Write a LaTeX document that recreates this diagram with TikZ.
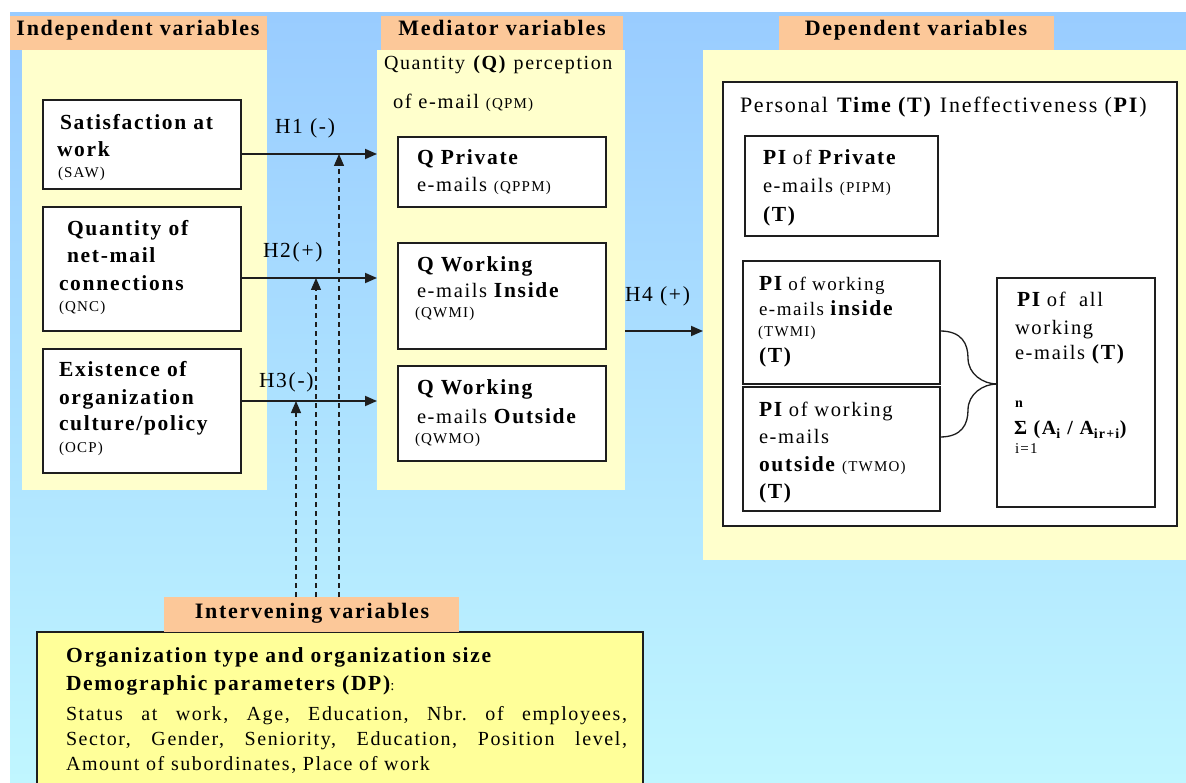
\documentclass[tikz,border=0pt]{standalone}
\usepackage{fontspec}
\setmainfont{Liberation Serif}[LetterSpace=8]
\usetikzlibrary{arrows.meta,calc}
\definecolor{bgTop}{RGB}{153,204,255}
\definecolor{bgBot}{RGB}{192,246,255}
\definecolor{panelY}{RGB}{255,255,204}
\definecolor{hdrO}{RGB}{252,200,153}
\definecolor{ivY}{RGB}{255,255,153}
\definecolor{lineC}{RGB}{30,30,30}
\newcommand\FH{\fontsize{22}{26}\selectfont}
\newcommand\FA{\fontsize{21.5}{25}\selectfont}
\newcommand\FR{\fontsize{20.5}{24}\selectfont}
\newcommand\FS{\fontsize{19}{22}\selectfont}
\newcommand\acr[1]{{\fontsize{15}{18}\selectfont #1}}
\frenchspacing
\tikzset{
  txt/.style={anchor=base west, inner sep=0pt, outer sep=0pt, font=\FA},
  ctxt/.style={anchor=base, inner sep=0pt, outer sep=0pt, font=\FH\bfseries},
  panel/.style={fill=panelY, draw=none, anchor=north west, inner sep=0pt, outer sep=0pt},
  hdr/.style={fill=hdrO, draw=none, anchor=north west, inner sep=0pt, outer sep=0pt},
  vbox/.style={fill=white, draw=lineC, line width=1.4pt, anchor=north west, inner sep=0pt, outer sep=0pt},
  harrow/.style={draw=lineC, line width=1.8pt, -{Triangle[length=12pt,width=10pt]}},
  dasharrow/.style={draw=lineC, line width=1.3pt, dash pattern=on 5pt off 4pt, -{Triangle[length=12pt,width=10pt]}},
  bracel/.style={draw=lineC, line width=1.3pt}
}
\begin{document}
\begin{tikzpicture}[x=1pt,y=-1pt]
\clip (0,0) rectangle (1186,783);
\fill[white] (0,0) rectangle (1186,783);
\fill[top color=bgTop, bottom color=bgBot] (10,13) rectangle (1190,783);

% panels and headers
\node[panel, minimum width=245pt, minimum height=440pt] (ivp) at (22,50) {};
\node[hdr, minimum width=257pt, minimum height=34pt] (hiv) at (10,16) {};
\node[panel, minimum width=248pt, minimum height=440pt] (medp) at (377,50) {};
\node[hdr, minimum width=242pt, minimum height=34pt] (hmed) at (381,16) {};
\node[panel, minimum width=490pt, minimum height=510pt] (dvp) at (703,50) {};
\node[hdr, minimum width=275pt, minimum height=34pt] (hdv) at (779,16) {};

\node[ctxt] (thiv) at (138,36) {Independent variables};
\node[ctxt] (thmed) at (502,36) {Mediator variables};
\node[ctxt] (thdv) at (916,36) {Dependent variables};

% independent boxes
\node[vbox, minimum width=198pt, minimum height=89pt] (saw) at (43,100) {};
\node[vbox, minimum width=198pt, minimum height=124pt] (qnc) at (43,207) {};
\node[vbox, minimum width=198pt, minimum height=124pt] (ocp) at (43,349) {};

\node[txt, font=\FA\bfseries] (s1) at (60,130) {Satisfaction at};
\node[txt, font=\FA\bfseries] (s2) at (57,157) {work};
\node[txt] (s3) at (58,178) {\acr{(SAW)}};

\node[txt, font=\FA\bfseries] (q1) at (67,236) {Quantity of};
\node[txt, font=\FA\bfseries] (q2) at (67,263) {net-mail};
\node[txt, font=\FA\bfseries] (q3) at (59,291) {connections};
\node[txt] (q4) at (59,312) {\acr{(QNC)}};

\node[txt, font=\FA\bfseries] (o1) at (59,377) {Existence of};
\node[txt, font=\FA\bfseries] (o2) at (59,404) {organization};
\node[txt, font=\FA\bfseries] (o3) at (59,431) {culture/policy};
\node[txt] (o4) at (59,452) {\acr{(OCP)}};

% mediator
\node[txt, font=\fontsize{20}{23}\selectfont] (m1) at (384,70) {Quantity \textbf{(Q)} perception};
\node[txt, font=\fontsize{20.5}{23}\selectfont] (m2) at (393,109) {of e-mail \acr{(QPM)}};

\node[vbox, minimum width=208pt, minimum height=70pt] (qppm) at (398,137) {};
\node[vbox, minimum width=208pt, minimum height=106pt] (qwmi) at (398,243) {};
\node[vbox, minimum width=208pt, minimum height=95pt] (qwmo) at (398,366) {};

\node[txt, font=\FA\bfseries] (p1) at (417,165) {Q Private};
\node[txt, font=\FR] (p2) at (417,192) {e-mails \acr{(QPPM)}};

\node[txt, font=\FA\bfseries] (wi1) at (417,272) {Q Working};
\node[txt, font=\FR] (wi2) at (417,298) {e-mails {\FA\bfseries Inside}};
\node[txt] (wi3) at (415,318) {\acr{(QWMI)}};

\node[txt, font=\FA\bfseries] (wo1) at (417,395) {Q Working};
\node[txt, font=\FR] (wo2) at (417,423) {e-mails {\FA\bfseries Outside}};
\node[txt] (wo3) at (415,443) {\acr{(QWMO)}};

% dependent
\node[vbox, minimum width=454pt, minimum height=444pt] (pit) at (723,82) {};
\node[txt, font=\fontsize{22}{26}\selectfont] (pt1) at (740,113) {Personal \textbf{Time (T)} Ineffectiveness (\textbf{PI})};

\node[vbox, minimum width=193pt, minimum height=100pt] (pipm) at (745,136) {};
\node[txt, font=\FR] (pp1) at (763,165) {{\FA\bfseries PI} of {\FA\bfseries Private}};
\node[txt, font=\FR] (pp2) at (763,193) {e-mails \acr{(PIPM)}};
\node[txt, font=\FA\bfseries] (pp3) at (763,222) {(T)};

\node[vbox, minimum width=197pt, minimum height=123pt] (twmi) at (743,261) {};
\node[txt, font=\FS] (ti1) at (759,291) {{\FA\bfseries PI} of working};
\node[txt, font=\FS] (ti2) at (759,316) {e-mails {\FA\bfseries inside}};
\node[txt] (ti3) at (758,337) {\acr{(TWMI)}};
\node[txt, font=\FA\bfseries] (ti4) at (759,363) {(T)};

\node[vbox, minimum width=197pt, minimum height=124pt] (twmo) at (743,387) {};
\node[txt, font=\FR] (to1) at (759,417) {{\FA\bfseries PI} of working};
\node[txt, font=\FR] (to2) at (759,443) {e-mails};
\node[txt, font=\FA\bfseries] (to3) at (759,471) {outside {\mdseries\acr{(TWMO)}}};
\node[txt, font=\FA\bfseries] (to4) at (759,498) {(T)};

\node[vbox, minimum width=158pt, minimum height=229pt] (allb) at (997,278) {};
\node[txt, font=\FR] (a1) at (1017,307) {{\FA\bfseries PI} of~~all};
\node[txt, font=\FR] (a2) at (1015,335) {working};
\node[txt, font=\FR] (a3) at (1015,360) {e-mails {\FA\bfseries (T)}};
\node[txt, font=\fontsize{14}{16}\selectfont\bfseries] (a4) at (1015,408) {n};
\node[txt, font=\fontsize{20}{22}\selectfont\bfseries] (a5) at (1014,435) {Σ (A\textsubscript{i} / A\textsubscript{ir+i})};
\node[txt, font=\fontsize{15}{18}\selectfont] (a6) at (1015,453) {i=1};

% intervening
\node[vbox, fill=ivY, minimum width=606pt, minimum height=170pt] (ivb) at (37,632) {};
\node[hdr, minimum width=295pt, minimum height=35pt] (hiv2) at (164,597) {};
\node[ctxt] (thiv2) at (312,618) {Intervening variables};

\node[txt, font=\FA\bfseries] (b1) at (66,662) {Organization type and organization size};
\node[txt, font=\FA\bfseries] (b2) at (66,690) {Demographic parameters (DP){\mdseries\acr{:}}};
\node[txt, font=\fontsize{20}{22}\selectfont] (b3) at (66,720) {\makebox[561pt][s]{Status at work, Age, Education, Nbr. of employees,}};
\node[txt, font=\fontsize{20}{22}\selectfont] (b4) at (66,745) {\makebox[561pt][s]{Sector, Gender, Seniority, Education, Position level,}};
\node[txt, font=\fontsize{20}{22}\selectfont] (b5) at (66,770) {Amount of subordinates, Place of work};

% hypothesis labels
\node[txt] (h1) at (275,134) {H1 (-)};
\node[txt] (h2) at (263,258) {H2(+)};
\node[txt] (h3) at (259,388) {H3(-)};
\node[txt] (h4) at (625,302) {H4 (+)};

% connectors
\coordinate (y1) at (0,154);
\coordinate (y2) at (0,278);
\coordinate (y3) at (0,401);
\coordinate (y4) at (0,331);
\draw[harrow] (saw.east |- y1) -- (medp.west |- y1);
\draw[harrow] (qnc.east |- y2) -- (medp.west |- y2);
\draw[harrow] (ocp.east |- y3) -- (medp.west |- y3);
\draw[harrow] (medp.east |- y4) -- (dvp.west |- y4);

\coordinate (d1) at (339,154);
\coordinate (d2) at (316,278);
\coordinate (d3) at (296,401);
\draw[dasharrow] (hiv2.north -| d1) -- (d1);
\draw[dasharrow] (hiv2.north -| d2) -- (d2);
\draw[dasharrow] (hiv2.north -| d3) -- (d3);

% brace
\coordinate (by1) at (0,331);
\coordinate (by2) at (0,437);
\coordinate (by0) at (0,384);
\draw[bracel] (twmi.east |- by1) .. controls +(22,0) and +(0,-14) .. (968,358)
  .. controls +(0,16) and +(-14,0) .. (allb.west |- by0);
\draw[bracel] (twmo.east |- by2) .. controls +(22,0) and +(0,14) .. (968,410)
  .. controls +(0,-16) and +(-14,0) .. (allb.west |- by0);
\end{tikzpicture}
\end{document}
